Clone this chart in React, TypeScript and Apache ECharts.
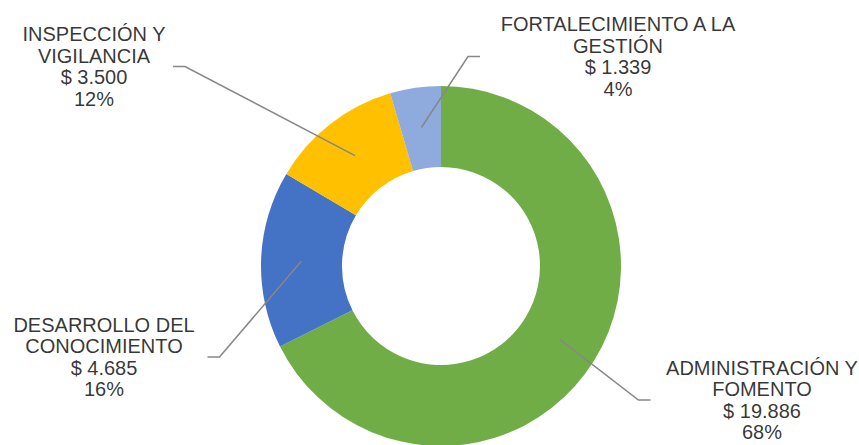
import React, { useEffect, useRef } from "react";
import * as echarts from "echarts";

const categories = [
  "ADMINISTRACIÓN Y\nFOMENTO",
  "DESARROLLO DEL\nCONOCIMIENTO",
  "INSPECCIÓN Y\nVIGILANCIA",
  "FORTALECIMIENTO A LA\nGESTIÓN",
];
const values = [19886, 4685, 3500, 1339];
const amountLabels = ["$ 19.886", "$ 4.685", "$ 3.500", "$ 1.339"];
const percentLabels = ["68%", "16%", "12%", "4%"];
const colors = ["#70AD47", "#4472C4", "#FFC000", "#8FAADC"];

// layout (not data)
const CX = 441;
const CY = 266;
const R_OUT = 180;
const R_IN = 99;
const labelPos = [
  { x: 762, y: 400, w: 223 },
  { x: 104, y: 357, w: 207 },
  { x: 94, y: 66.5, w: 158 },
  { x: 618, y: 56.5, w: 276 },
];

export default function App() {
  const ref = useRef<HTMLDivElement>(null);
  useEffect(() => {
    if (!ref.current) return;
    const chart = echarts.init(ref.current, null, { renderer: "svg" });
    const total = values.reduce((a, b) => a + b, 0);
    let cum = 0;
    const mids = values.map((v) => {
      const m = cum + v / 2;
      cum += v;
      return m;
    });
    const rMid = (R_IN + R_OUT) / 2;
    const font = "'Liberation Sans', Arial, sans-serif";
    chart.setOption({
      animation: false,
      polar: { center: [CX, CY], radius: R_OUT },
      angleAxis: {
        type: "value",
        min: 0,
        max: total,
        startAngle: 90,
        clockwise: true,
        show: false,
      },
      radiusAxis: { type: "value", min: 0, max: R_OUT, show: false },
      series: [
        {
          type: "pie",
          center: [CX, CY],
          radius: [R_IN, R_OUT],
          startAngle: 90,
          clockwise: true,
          label: { show: false },
          labelLine: { show: false },
          emphasis: { disabled: true },
          itemStyle: { borderWidth: 0 },
          data: values.map((v, i) => ({
            name: categories[i],
            value: v,
            itemStyle: { color: colors[i] },
          })),
        },
        {
          type: "scatter",
          coordinateSystem: "polar",
          symbolSize: 1,
          itemStyle: { color: "rgba(0,0,0,0)" },
          silent: true,
          z: 10,
          data: mids.map((m, i) => ({
            value: [rMid, m],
            label: { width: labelPos[i].w },
          })),
          label: {
            show: true,
            position: "inside",
            align: "center",
            verticalAlign: "middle",
            fontFamily: font,
            fontSize: 20,
            lineHeight: 21.6,
            color: "#000",
            formatter: (p: any) =>
              categories[p.dataIndex] +
              "\n" +
              amountLabels[p.dataIndex] +
              "\n" +
              percentLabels[p.dataIndex],
          },
          labelLine: {
            show: true,
            length2: 12,
            lineStyle: { color: "#878787", width: 1.5 },
          },
          labelLayout: (p: any) => ({
            x: labelPos[p.dataIndex].x,
            y: labelPos[p.dataIndex].y,
            align: "center",
            verticalAlign: "middle",
          }),
        },
      ],
    });
    return () => chart.dispose();
  }, []);
  return (
    <div
      ref={ref}
      style={{ position: "absolute", left: 0, top: 0, width: 859, height: 445 }}
    />
  );
}
